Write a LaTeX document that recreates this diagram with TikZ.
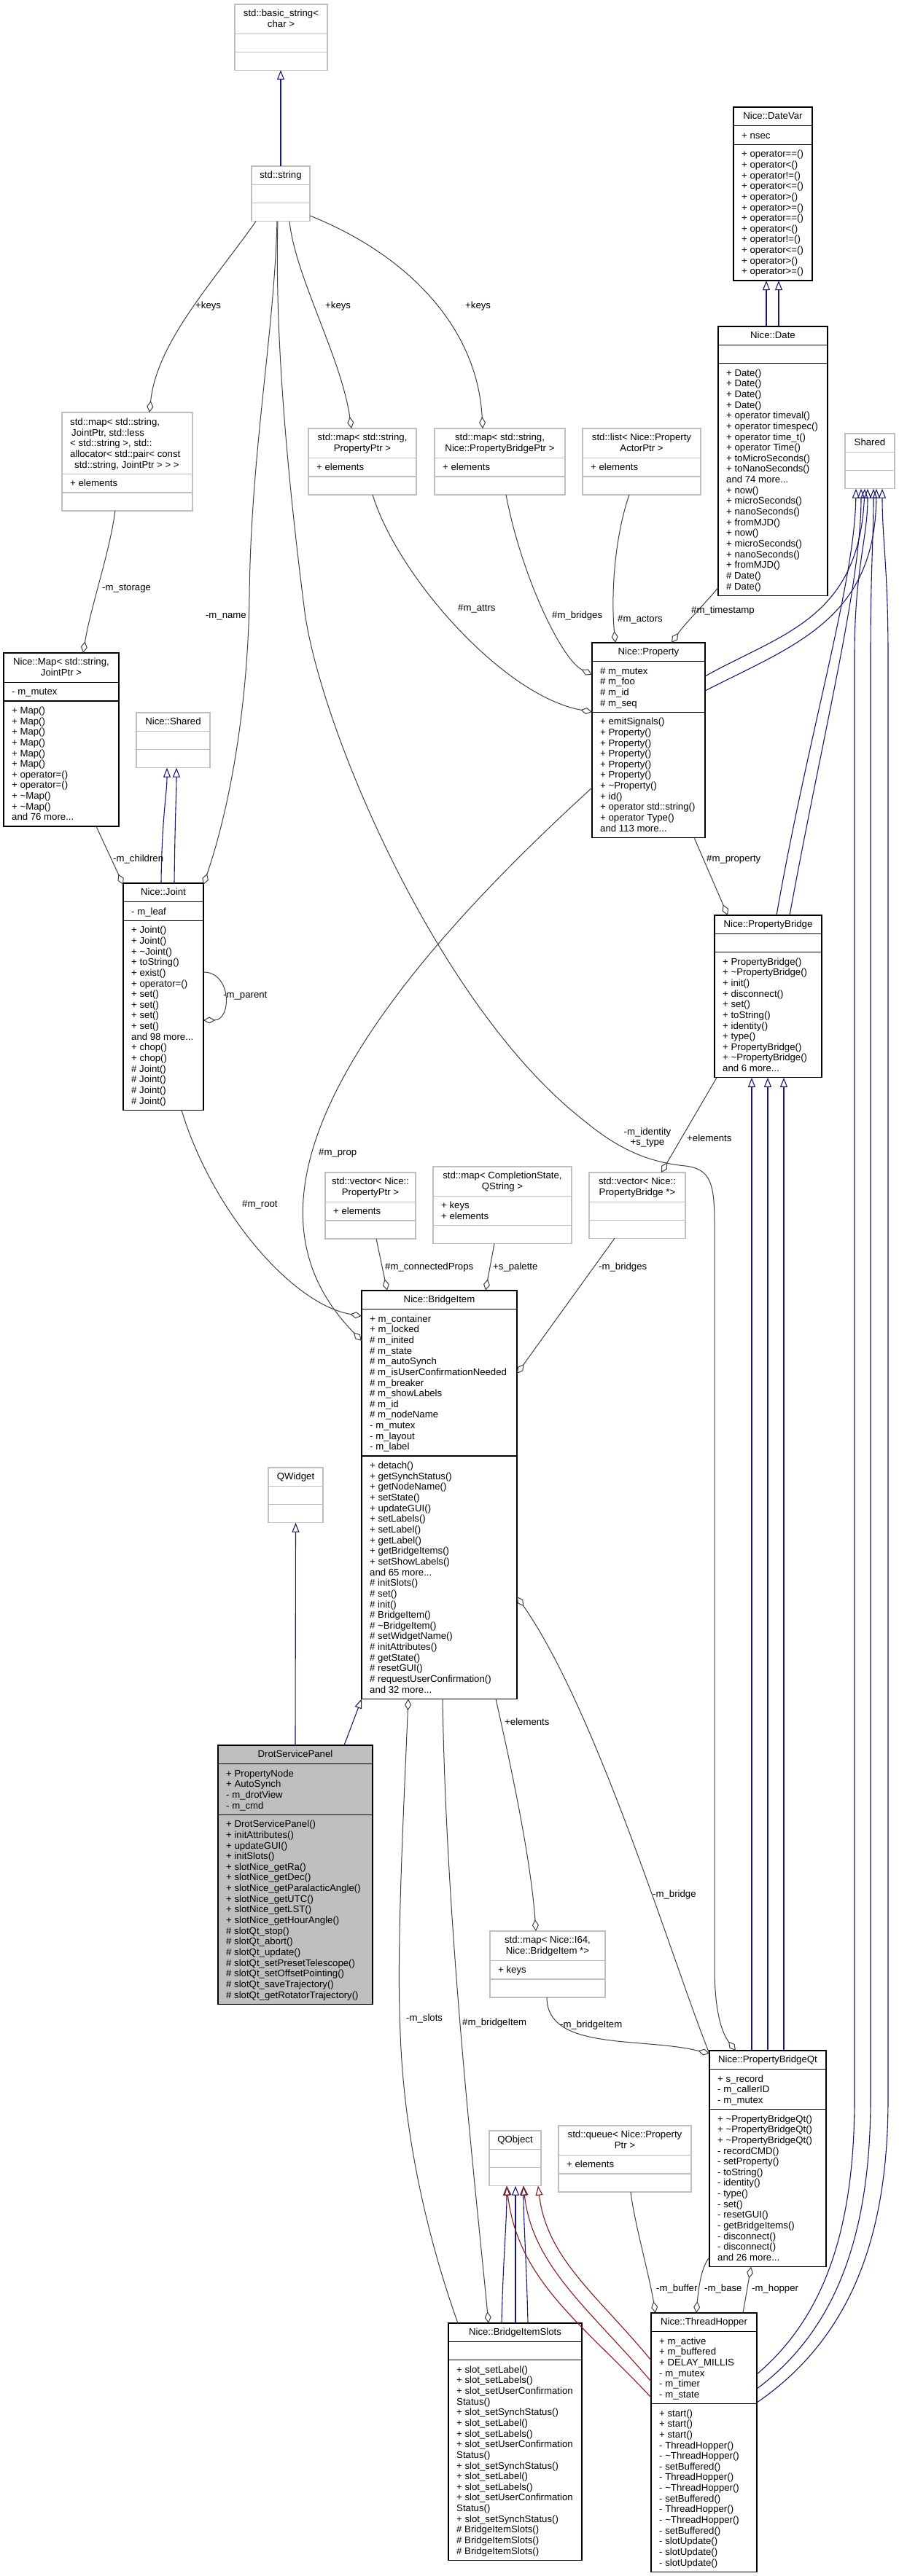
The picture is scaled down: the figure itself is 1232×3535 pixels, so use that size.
\documentclass[tikz,border=0pt]{standalone}
\usepackage{fontspec}
\setmainfont{Liberation Sans}
\usetikzlibrary{arrows.meta,calc}
\definecolor{edgeBlue}{HTML}{191970}
\definecolor{edgeRed}{HTML}{8B1A1A}
\definecolor{useGray}{HTML}{404040}
\definecolor{boxGray}{HTML}{BFBFBF}
\newcommand{\dfont}{\fontsize{13.2}{14.65}\selectfont}
\newcommand{\tld}{\textasciitilde}
% divider, title and member list of a class box
\newcommand{\csep}[3][black]{\draw[draw=#1, line width=1.3pt] ($(#2.north west)+(0,#3)$) -- ($(#2.north east)+(0,#3)$);}
\newcommand{\ctitle}[2]{\node[ttl] (#1-t) at ($(#1.north)+(0,7)$) {#2};}
\newcommand{\cmem}[4]{\node[mem] (#1-#2) at ($(#1.north west)+(11,#3+7)$) {\strut#4};}

\begin{document}
\begin{tikzpicture}[
  x=1pt, y=-1pt,
  every node/.style={font=\dfont},
  cls/.style={draw=black, fill=white, line width=1.3pt, inner sep=0pt, outer sep=0pt, anchor=north west},
  ext/.style={cls, draw=boxGray},
  ttl/.style={anchor=north, align=center, inner sep=0pt},
  mem/.style={anchor=north west, align=left, inner sep=0pt},
  lbl/.style={anchor=west, inner sep=0pt},
  inh/.style={draw=edgeBlue, line width=1.1pt, -{Triangle[open,length=13pt,width=10pt]}},
  prot/.style={inh, draw=edgeRed},
  use/.style={draw=useGray, line width=1pt, {Diamond[open,length=16pt,width=9pt]}-},
]
\fill[white] (0,0) rectangle (1232,3535);
\useasboundingbox (0,0) rectangle (1232,3535);

% string classes
\node[ext, minimum width=127pt, minimum height=90.3pt] (bstr) at (322,6) {};
\ctitle{bstr}{std::basic\_string<\\char >}
\csep[boxGray]{bstr}{40.3} \csep[boxGray]{bstr}{65.3}
\node[ext, minimum width=80pt, minimum height=75.65pt] (str) at (345,228) {};
\ctitle{str}{std::string}
\csep[boxGray]{str}{25.65} \csep[boxGray]{str}{50.65}

% containers keyed by std::string
\node[ext, minimum width=179pt, minimum height=134.9pt] (mapj) at (85,566) {};
\node[mem] (mapj-t) at ($(mapj.north west)+(11,7)$) {\strut std::map< std::string,\\\hspace{2pt}JointPtr, std::less\\< std::string >, std::\\allocator< std::pair< const\\\hspace{6pt}std::string, JointPtr > > >};
\csep[boxGray]{mapj}{84.25} \csep[boxGray]{mapj}{109.9}
\cmem{mapj}{a}{84.25}{+ elements}
\node[ext, minimum width=148pt, minimum height=90.95pt] (mapp) at (423,588) {};
\ctitle{mapp}{std::map< std::string,\\PropertyPtr >}
\csep[boxGray]{mapp}{40.3} \csep[boxGray]{mapp}{65.95}
\cmem{mapp}{a}{40.3}{+ elements}
\node[ext, minimum width=179pt, minimum height=90.95pt] (mapb) at (596,588) {};
\ctitle{mapb}{std::map< std::string,\\Nice::PropertyBridgePtr >}
\csep[boxGray]{mapb}{40.3} \csep[boxGray]{mapb}{65.95}
\cmem{mapb}{a}{40.3}{+ elements}
\node[ext, minimum width=162pt, minimum height=90.95pt] (lst) at (799,588) {};
\ctitle{lst}{std::list< Nice::Property\\ActorPtr >}
\csep[boxGray]{lst}{40.3} \csep[boxGray]{lst}{65.95}
\cmem{lst}{a}{40.3}{+ elements}

% dates
\node[cls, minimum width=108pt, minimum height=238.1pt] (dvar) at (1006,147) {};
\ctitle{dvar}{Nice::DateVar}
\csep{dvar}{25.65} \csep{dvar}{51.3}
\cmem{dvar}{a}{25.65}{+ nsec}
\cmem{dvar}{m}{51.3}{+ operator==()\\+ operator<()\\+ operator!=()\\+ operator<=()\\+ operator>()\\+ operator>=()\\+ operator==()\\+ operator<()\\+ operator!=()\\+ operator<=()\\+ operator>()\\+ operator>=()}
\node[cls, minimum width=150pt, minimum height=369.3pt] (date) at (985,448) {};
\ctitle{date}{Nice::Date}
\csep{date}{25.65} \csep{date}{50.65}
\cmem{date}{m}{50.65}{+ Date()\\+ Date()\\+ Date()\\+ Date()\\+ operator timeval()\\+ operator timespec()\\+ operator time\_t()\\+ operator Time()\\+ toMicroSeconds()\\+ toNanoSeconds()\\and 74 more...\\+ now()\\+ microSeconds()\\+ nanoSeconds()\\+ fromMJD()\\+ now()\\+ microSeconds()\\+ nanoSeconds()\\+ fromMJD()\\\# Date()\\\# Date()}
\node[ext, minimum width=68pt, minimum height=75.65pt] (shrd) at (1159,595) {};
\ctitle{shrd}{Shared}
\csep[boxGray]{shrd}{25.65} \csep[boxGray]{shrd}{50.65}

% joint tree
\node[cls, minimum width=158pt, minimum height=238.1pt] (nmap) at (5,896) {};
\ctitle{nmap}{Nice::Map< std::string,\\JointPtr >}
\csep{nmap}{40.3} \csep{nmap}{65.95}
\cmem{nmap}{a}{40.3}{- m\_mutex}
\cmem{nmap}{m}{65.95}{+ Map()\\+ Map()\\+ Map()\\+ Map()\\+ Map()\\+ Map()\\+ operator=()\\+ operator=()\\+ \tld Map()\\+ \tld Map()\\and 76 more...}
\node[ext, minimum width=101pt, minimum height=75.65pt] (nshr) at (187,978) {};
\ctitle{nshr}{Nice::Shared}
\csep[boxGray]{nshr}{25.65} \csep[boxGray]{nshr}{50.65}
\node[cls, minimum width=110pt, minimum height=311.35pt] (jnt) at (169,1212) {};
\ctitle{jnt}{Nice::Joint}
\csep{jnt}{25.65} \csep{jnt}{51.3}
\cmem{jnt}{a}{25.65}{- m\_leaf}
\cmem{jnt}{m}{51.3}{+ Joint()\\+ Joint()\\+ \tld Joint()\\+ toString()\\+ exist()\\+ operator=()\\+ set()\\+ set()\\+ set()\\+ set()\\and 98 more...\\+ chop()\\+ chop()\\\# Joint()\\\# Joint()\\\# Joint()\\\# Joint()}

% property and its bridge
\node[cls, minimum width=155pt, minimum height=267.4pt] (prop) at (812,882) {};
\ctitle{prop}{Nice::Property}
\csep{prop}{25.65} \csep{prop}{95.25}
\cmem{prop}{a}{25.65}{\# m\_mutex\\\# m\_foo\\\# m\_id\\\# m\_seq}
\cmem{prop}{m}{95.25}{+ emitSignals()\\+ Property()\\+ Property()\\+ Property()\\+ Property()\\+ Property()\\+ \tld Property()\\+ id()\\+ operator std::string()\\+ operator Type()\\and 113 more...}
\node[cls, minimum width=147pt, minimum height=222.8pt] (pb) at (980,1256) {};
\ctitle{pb}{Nice::PropertyBridge}
\csep{pb}{25.65} \csep{pb}{50.65}
\cmem{pb}{m}{50.65}{+ PropertyBridge()\\+ \tld PropertyBridge()\\+ init()\\+ disconnect()\\+ set()\\+ toString()\\+ identity()\\+ type()\\+ PropertyBridge()\\+ \tld PropertyBridge()\\and 6 more...}

% containers used by the bridge item
\node[ext, minimum width=124pt, minimum height=90.95pt] (vecp) at (446,1609) {};
\ctitle{vecp}{std::vector< Nice::\\PropertyPtr >}
\csep[boxGray]{vecp}{40.3} \csep[boxGray]{vecp}{65.95}
\cmem{vecp}{a}{40.3}{+ elements}
\node[ext, minimum width=190pt, minimum height=105.6pt] (mapcs) at (594,1601) {};
\ctitle{mapcs}{std::map< CompletionState,\\QString >}
\csep[boxGray]{mapcs}{40.3} \csep[boxGray]{mapcs}{80.6}
\cmem{mapcs}{a}{40.3}{+ keys\\+ elements}
\node[ext, minimum width=132pt, minimum height=90.3pt] (vecb) at (808,1609) {};
\ctitle{vecb}{std::vector< Nice::\\PropertyBridge *>}
\csep[boxGray]{vecb}{40.3} \csep[boxGray]{vecb}{65.3}

% bridge item
\node[cls, minimum width=213pt, minimum height=560.4pt] (bi) at (496,1771) {};
\ctitle{bi}{Nice::BridgeItem}
\csep{bi}{25.65} \csep{bi}{227.1}
\cmem{bi}{a}{25.65}{+ m\_container\\+ m\_locked\\\# m\_inited\\\# m\_state\\\# m\_autoSynch\\\# m\_isUserConfirmationNeeded\\\# m\_breaker\\\# m\_showLabels\\\# m\_id\\\# m\_nodeName\\- m\_mutex\\- m\_layout\\- m\_label}
\cmem{bi}{m}{227.1}{+ detach()\\+ getSynchStatus()\\+ getNodeName()\\+ setState()\\+ updateGUI()\\+ setLabels()\\+ setLabel()\\+ getLabel()\\+ getBridgeItems()\\+ setShowLabels()\\and 65 more...\\\# initSlots()\\\# set()\\\# init()\\\# BridgeItem()\\\# \tld BridgeItem()\\\# setWidgetName()\\\# initAttributes()\\\# getState()\\\# resetGUI()\\\# requestUserConfirmation()\\and 32 more...}

% the panel
\node[ext, minimum width=75pt, minimum height=75.65pt] (qw) at (368,2014) {};
\ctitle{qw}{QWidget}
\csep[boxGray]{qw}{25.65} \csep[boxGray]{qw}{50.65}
\node[cls, fill=boxGray, minimum width=212pt, minimum height=355.3pt] (dsp) at (299,2395) {};
\ctitle{dsp}{DrotServicePanel}
\csep{dsp}{25.65} \csep{dsp}{95.25}
\cmem{dsp}{a}{25.65}{+ PropertyNode\\+ AutoSynch\\- m\_drotView\\- m\_cmd}
\cmem{dsp}{m}{95.25}{+ DrotServicePanel()\\+ initAttributes()\\+ updateGUI()\\+ initSlots()\\+ slotNice\_getRa()\\+ slotNice\_getDec()\\+ slotNice\_getParalacticAngle()\\+ slotNice\_getUTC()\\+ slotNice\_getLST()\\+ slotNice\_getHourAngle()\\\# slotQt\_stop()\\\# slotQt\_abort()\\\# slotQt\_update()\\\# slotQt\_setPresetTelescope()\\\# slotQt\_setOffsetPointing()\\\# slotQt\_saveTrajectory()\\\# slotQt\_getRotatorTrajectory()}

% Qt side
\node[ext, minimum width=158pt, minimum height=90.95pt] (mi64) at (672,2650) {};
\ctitle{mi64}{std::map< Nice::I64,\\Nice::BridgeItem *>}
\csep[boxGray]{mi64}{40.3} \csep[boxGray]{mi64}{65.95}
\cmem{mi64}{a}{40.3}{+ keys}
\node[ext, minimum width=71pt, minimum height=75.65pt] (qobj) at (671,2924) {};
\ctitle{qobj}{QObject}
\csep[boxGray]{qobj}{25.65} \csep[boxGray]{qobj}{50.65}
\node[ext, minimum width=182pt, minimum height=90.95pt] (que) at (766,2917) {};
\ctitle{que}{std::queue< Nice::Property\\Ptr >}
\csep[boxGray]{que}{40.3} \csep[boxGray]{que}{65.95}
\cmem{que}{a}{40.3}{+ elements}
\node[cls, minimum width=160pt, minimum height=296.7pt] (pbqt) at (973,2814) {};
\ctitle{pbqt}{Nice::PropertyBridgeQt}
\csep{pbqt}{25.65} \csep{pbqt}{80.6}
\cmem{pbqt}{a}{25.65}{+ s\_record\\- m\_callerID\\- m\_mutex}
\cmem{pbqt}{m}{80.6}{+ \tld PropertyBridgeQt()\\+ \tld PropertyBridgeQt()\\+ \tld PropertyBridgeQt()\\- recordCMD()\\- setProperty()\\- toString()\\- identity()\\- type()\\- set()\\- resetGUI()\\- getBridgeItems()\\- disconnect()\\- disconnect()\\and 26 more...}
\node[cls, minimum width=145pt, minimum height=355.3pt] (th) at (893,3174) {};
\ctitle{th}{Nice::ThreadHopper}
\csep{th}{25.65} \csep{th}{124.55}
\cmem{th}{a}{25.65}{+ m\_active\\+ m\_buffered\\+ DELAY\_MILLIS\\- m\_mutex\\- m\_timer\\- m\_state}
\cmem{th}{m}{124.55}{+ start()\\+ start()\\+ start()\\- ThreadHopper()\\- \tld ThreadHopper()\\- setBuffered()\\- ThreadHopper()\\- \tld ThreadHopper()\\- setBuffered()\\- ThreadHopper()\\- \tld ThreadHopper()\\- setBuffered()\\- slotUpdate()\\- slotUpdate()\\- slotUpdate()}
\node[cls, minimum width=183pt, minimum height=325.35pt] (bis) at (615,3188) {};
\ctitle{bis}{Nice::BridgeItemSlots}
\csep{bis}{25.65} \csep{bis}{50.65}
\cmem{bis}{m}{50.65}{+ slot\_setLabel()\\+ slot\_setLabels()\\+ slot\_setUserConfirmation\\Status()\\+ slot\_setSynchStatus()\\+ slot\_setLabel()\\+ slot\_setLabels()\\+ slot\_setUserConfirmation\\Status()\\+ slot\_setSynchStatus()\\+ slot\_setLabel()\\+ slot\_setLabels()\\+ slot\_setUserConfirmation\\Status()\\+ slot\_setSynchStatus()\\\# BridgeItemSlots()\\\# BridgeItemSlots()\\\# BridgeItemSlots()}

% inheritance
\draw[inh] (str.north) -- ($(bstr.south west)+(63,0)$);
\draw[inh] ($(date.north west)+(66,0)$) -- ($(dvar.south west)+(45,0)$);
\draw[inh] ($(date.north west)+(83,0)$) -- ($(dvar.south west)+(62,0)$);
\draw[inh] ($(jnt.north west)+(52,0)$) .. controls (222,1120) and (229,1090) .. ($(nshr.south west)+(42,0)$);
\draw[inh] ($(jnt.north west)+(70,0)$) .. controls (240,1120) and (242,1090) .. ($(nshr.south west)+(55,0)$);
\draw[inh] ($(prop.north east)+(0,46)$) .. controls (1070,870) and (1178,850) .. ($(shrd.south west)+(27,0)$);
\draw[inh] ($(prop.north east)+(0,66)$) .. controls (1090,885) and (1200,850) .. ($(shrd.south west)+(43,0)$);
\draw[inh] ($(pb.north west)+(85,0)$) .. controls (1110,1000) and (1172,800) .. ($(shrd.south west)+(15,0)$);
\draw[inh] ($(pb.north west)+(103,0)$) .. controls (1130,1000) and (1181,800) .. ($(shrd.south west)+(22,0)$);
\draw[inh] ($(th.north east)+(0,84)$) .. controls (1130,3180) and (1172,3060) .. (1172,2880) -- (1172,900) .. controls (1172,780) and (1190,740) .. ($(shrd.south west)+(31,0)$);
\draw[inh] ($(th.north east)+(0,104)$) .. controls (1150,3195) and (1194,3060) .. (1194,2880) -- (1194,900) .. controls (1194,780) and (1198,740) .. ($(shrd.south west)+(39,0)$);
\draw[inh] ($(th.north east)+(0,123)$) .. controls (1172,3205) and (1218,3060) .. (1218,2880) -- (1218,900) .. controls (1218,780) and (1210,740) .. ($(shrd.south west)+(51,0)$);
\foreach \dx in {58,80,102}
  \draw[inh] ($(pbqt.north west)+(\dx,0)$) -- ($(pb.south west)+(\dx-7,0)$);
\draw[inh] ($(dsp.north west)+(106,0)$) -- (qw.south);
\draw[inh] ($(dsp.north west)+(173,0)$) -- (bi.south west);
\draw[inh] ($(bis.north west)+(73,0)$) .. controls (690,3100) and (695,3050) .. ($(qobj.south west)+(24,0)$);
\draw[inh] ($(bis.north west)+(92,0)$) -- ($(qobj.south west)+(36,0)$);
\draw[inh] ($(bis.north west)+(109,0)$) .. controls (722,3100) and (718,3050) .. ($(qobj.south west)+(47,0)$);
\draw[prot] ($(th.north west)+(0,116)$) .. controls (800,3190) and (710,3130) .. ($(qobj.south west)+(24,0)$);
\draw[prot] ($(th.north west)+(0,94)$) .. controls (810,3170) and (730,3110) .. ($(qobj.south west)+(47,0)$);
\draw[prot] ($(th.north west)+(0,65)$) .. controls (820,3150) and (750,3100) .. ($(qobj.south west)+(67,0)$);

% members (diamond at the owner)
\draw[use] ($(mapj.north west)+(120,0)$) .. controls (215,470) and (290,390) .. ($(str.south west)+(6,0)$);
\node[lbl] (lKeysJ) at (268,420) {+keys};
\draw[use] ($(mapp.north west)+(59,0)$) .. controls (468,490) and (405,380) .. ($(str.south west)+(52,0)$);
\node[lbl] (lKeysP) at (446,420) {+keys};
\draw[use] ($(mapb.north west)+(66,0)$) .. controls (655,450) and (560,350) .. ($(str.north east)+(0,68)$);
\node[lbl] (lKeysB) at (638,420) {+keys};
\draw[use] ($(jnt.north east)+(0,2)$) .. controls (318,1100) and (340,960) .. (342,820) .. controls (344,620) and (376,460) .. ($(str.south west)+(35,0)$);
\node[lbl, anchor=east] (lName) at (338,846) {-m\_name};
\draw[use] ($(nmap.north west)+(109,0)$) .. controls (125,830) and (150,760) .. ($(mapj.south west)+(73,0)$);
\node[lbl] (lStorage) at (140,808) {-m\_storage};
\draw[use] ($(jnt.north west)+(0,2)$) -- ($(nmap.south west)+(127,0)$);
\node[lbl] (lChildren) at (155,1179) {-m\_children};
\draw[use] ($(jnt.north east)+(0,188)$) .. controls (318,1400) and (318,1334) .. ($(jnt.north east)+(0,122)$);
\node[lbl] (lParent) at (306,1367) {-m\_parent};
\draw[use] ($(bi.north west)+(0,35)$) .. controls (400,1790) and (290,1660) .. ($(jnt.south west)+(80,0)$);
\node[lbl] (lRoot) at (332,1653) {\#m\_root};
\draw[use] ($(bi.north west)+(0,69)$) .. controls (380,1720) and (330,1520) .. ($(prop.north west)+(0,199)$);
\node[lbl] (lProp) at (437,1582) {\#m\_prop};
\draw[use] ($(prop.north west)+(0,95)$) .. controls (690,955) and (545,790) .. ($(mapp.south west)+(88,0)$);
\node[lbl] (lAttrs) at (628,835) {\#m\_attrs};
\draw[use] ($(prop.north west)+(0,44)$) .. controls (770,905) and (715,790) .. ($(mapb.south west)+(98,0)$);
\node[lbl] (lBridges) at (757,845) {\#m\_bridges};
\draw[use] ($(prop.north west)+(32,0)$) .. controls (838,820) and (842,740) .. ($(lst.south west)+(64,0)$);
\node[lbl] (lActors) at (847,850) {\#m\_actors};
\draw[use] ($(prop.north west)+(109,0)$) .. controls (940,855) and (970,825) .. ($(date.south west)+(0,-11)$);
\node[lbl] (lStamp) at (948,838) {\#m\_timestamp};
\draw[use] ($(pb.north west)+(18,0)$) -- ($(prop.south west)+(140,0)$);
\node[lbl] (lProperty) at (969,1179) {\#m\_property};
\draw[use] ($(pbqt.north west)+(36,0)$) .. controls (990,2790) and (980,2760) .. (980,2700) -- (980,1680)
  .. controls (980,1625) and (975,1604) .. (940,1600) .. controls (880,1594) and (840,1570) .. (800,1537)
  .. controls (600,1380) and (440,1000) .. (418,840) .. controls (400,700) and (376,480) .. ($(str.south west)+(36,0)$);
\node[align=center, inner sep=0pt] (lIdentity) at (888,1561) {-m\_identity\\+s\_type};
\draw[use] ($(vecb.north west)+(99,0)$) -- ($(pb.south west)+(3,0)$);
\node[lbl] (lElemB) at (942,1562) {+elements};
\draw[use] ($(bi.north west)+(35,0)$) -- ($(vecp.south west)+(70,0)$);
\node[lbl] (lConnected) at (528,1739) {\#m\_connectedProps};
\draw[use] ($(bi.north west)+(170,0)$) -- ($(mapcs.south west)+(84,0)$);
\node[lbl] (lPalette) at (676,1739) {+s\_palette};
\draw[use] ($(bi.north east)+(0,114)$) -- ($(vecb.south west)+(35,0)$);
\node[lbl] (lBridgesB) at (821,1739) {-m\_bridges};
\draw[use] ($(bi.south west)+(64,0)$) .. controls (552,2520) and (544,2680) .. (549,2790) .. controls (555,2960) and (600,3110) .. ($(bis.north west)+(13,0)$);
\node[lbl] (lSlots) at (557,2770) {-m\_slots};
\draw[use] ($(bis.north west)+(55,0)$) .. controls (652,3000) and (612,2650) .. ($(bi.south west)+(111,0)$);
\node[lbl] (lItemS) at (634,2776) {\#m\_bridgeItem};
\draw[use] ($(mi64.north west)+(63,0)$) .. controls (728,2550) and (700,2420) .. ($(bi.south west)+(184,0)$);
\node[lbl] (lElemI) at (692,2363) {+elements};
\draw[use] ($(pbqt.north west)+(0,4)$) .. controls (880,2795) and (750,2815) .. ($(mi64.south west)+(78,0)$);
\node[lbl] (lItemQ) at (768,2779) {-m\_bridgeItem};
\draw[use] ($(bi.north east)+(0,420)$) .. controls (820,2350) and (925,2700) .. ($(pbqt.north west)+(0,4)$);
\node[lbl] (lBridge) at (895,2600) {-m\_bridge};
\draw[use] ($(th.north west)+(6,0)$) .. controls (890,3120) and (870,3050) .. ($(que.south west)+(99,0)$);
\node[lbl] (lBuffer) at (900,3141) {-m\_buffer};
\draw[use] ($(th.north west)+(62,0)$) .. controls (958,3140) and (962,3110) .. ($(pbqt.south west)+(0,-13)$);
\node[lbl] (lBase) at (966,3141) {-m\_base};
\draw[use] ($(pbqt.south west)+(57,0)$) -- ($(th.north west)+(126,0)$);
\node[lbl] (lHopper) at (1031,3141) {-m\_hopper};

\end{tikzpicture}
\end{document}
